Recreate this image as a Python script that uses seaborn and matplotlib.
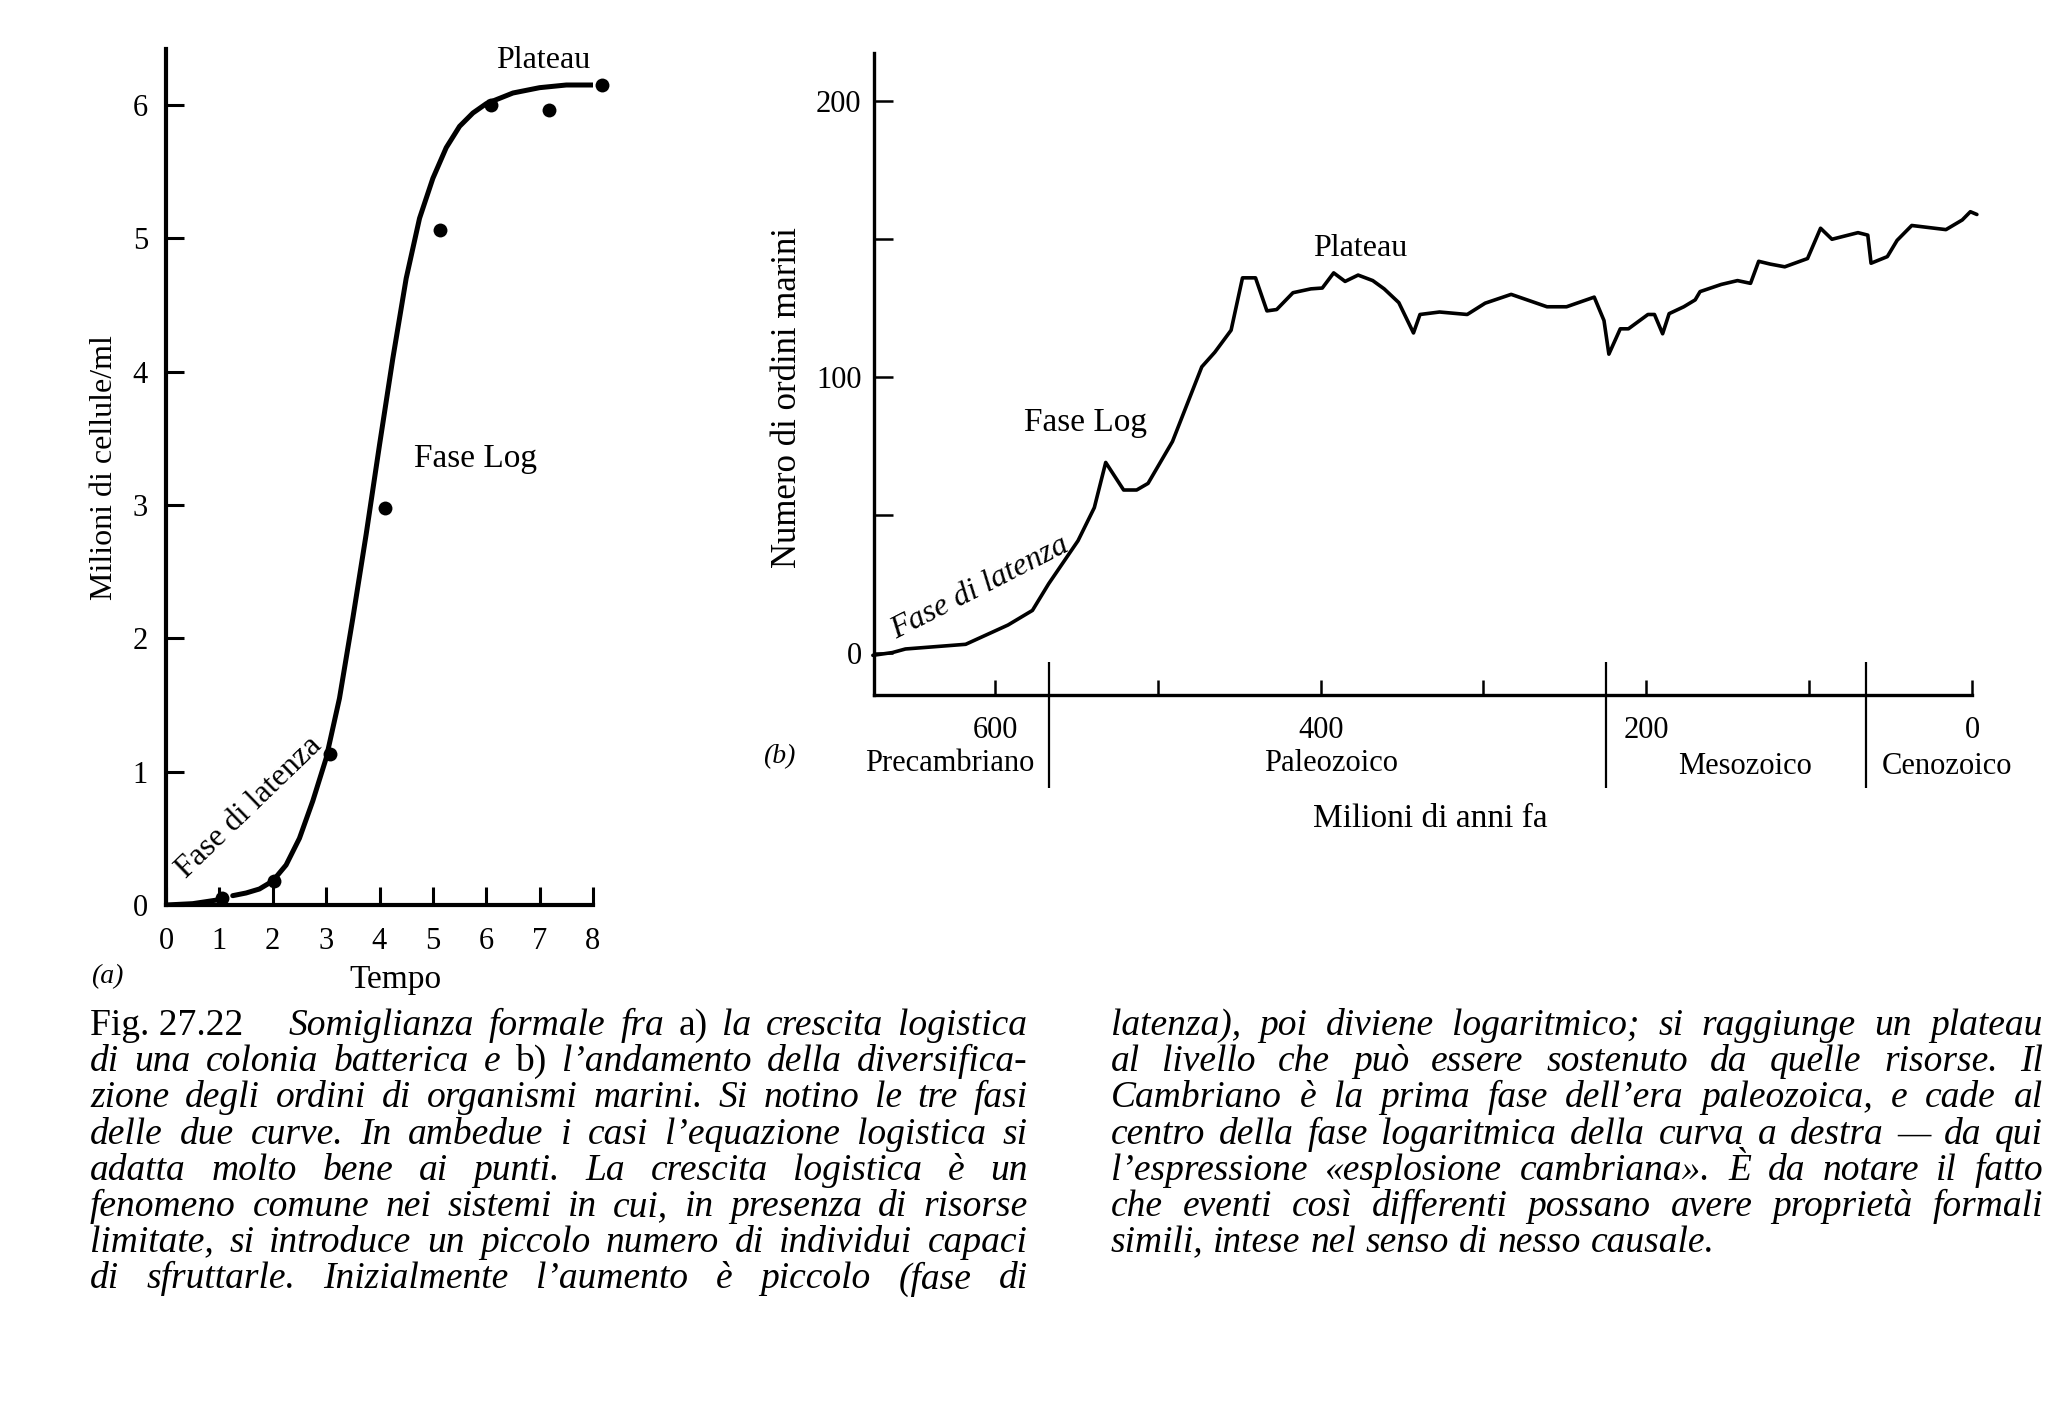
import numpy as np
import pandas as pd
import matplotlib
matplotlib.use("Agg")
import matplotlib.pyplot as plt
import seaborn as sns

# ---------------- (a) bacterial colony ----------------
time_obs = [1.05, 2.02, 3.08, 4.10, 5.13, 6.08, 7.17, 8.16]
cells_obs = [0.05, 0.18, 1.13, 2.98, 5.06, 6.00, 5.96, 6.15]
time_curve = [0.0, 0.5, 1.0, 1.25, 1.5, 1.75, 2.0, 2.25, 2.5, 2.75, 3.0, 3.25, 3.5,
              3.75, 4.0, 4.25, 4.5, 4.75, 5.0, 5.25, 5.5, 5.75, 6.0, 6.5, 7.0, 7.5, 8.0]
cells_curve = [0.0, 0.01, 0.04, 0.07, 0.09, 0.12, 0.18, 0.30, 0.50, 0.78, 1.10, 1.55, 2.15,
               2.78, 3.45, 4.10, 4.70, 5.15, 5.45, 5.68, 5.84, 5.94, 6.01, 6.09, 6.13, 6.15, 6.15]
time_ticks = [0, 1, 2, 3, 4, 5, 6, 7, 8]
cells_ticks = [0, 1, 2, 3, 4, 5, 6]

# ---------------- (b) marine orders ----------------
age_mya = [675, 663, 655, 618, 592, 577, 567, 549, 539, 532, 521, 513, 506, 491, 473,
           465, 455, 448, 440, 433, 427, 417, 406, 399, 392, 385, 377, 368, 361, 352,
           343, 339, 327, 310, 299, 283, 261, 249, 232, 226, 223, 216, 211, 199, 195,
           190, 186, 177, 170, 167, 154, 144, 136, 131, 124, 115, 101, 93, 86, 70,
           64, 62, 52, 46, 37, 16, 6, 1, -3]
n_orders = [-1, 0, 1.3, 3, 10, 15.3, 25, 40.6, 52.6, 69, 59, 59, 61.4, 76.6, 103.7,
            109, 117, 136, 136, 124, 124.5, 130.6, 132, 132.3, 137.8, 134.7, 137, 135, 132, 127,
            116, 122.7, 123.6, 122.7, 126.8, 130, 125.5, 125.5, 129, 120.5, 108.3, 117.5, 117.5, 122.7, 122.7,
            115.7, 123, 125.5, 128, 131, 133.6, 135, 134, 142, 141, 140, 143, 154, 150, 152.4,
            151.5, 141.3, 143.7, 149.6, 155, 153.5, 157, 160, 159]
age_ticks = [600, 500, 400, 300, 200, 100, 0]
age_ticklabels = ["600", "", "400", "", "200", "", "0"]
order_ticks = [0, 50, 100, 150, 200]
order_ticklabels = ["0", "", "100", "", "200"]
era_boundaries = [567, 225, 65]
era_names = ["Precambriano", "Paleozoico", "Mesozoico", "Cenozoico"]

caption_left = [
    "^Fig.\u00a027.22 | Somiglianza formale fra ^a) la crescita logistica",
    "di una colonia batterica e ^b) l\u2019andamento della diversifica-",
    "zione degli ordini di organismi marini. Si notino le tre fasi",
    "delle due curve. In ambedue i casi l\u2019equazione logistica si",
    "adatta molto bene ai punti. La crescita logistica \u00e8 un",
    "fenomeno comune nei sistemi in cui, in presenza di risorse",
    "limitate, si introduce un piccolo numero di individui capaci",
    "di sfruttarle. Inizialmente l\u2019aumento \u00e8 piccolo (fase di",
]
caption_right = [
    "latenza), poi diviene logaritmico; si raggiunge un plateau",
    "al livello che pu\u00f2 essere sostenuto da quelle risorse. Il",
    "Cambriano \u00e8 la prima fase dell\u2019era paleozoica, e cade al",
    "centro della fase logaritmica della curva a destra \u2014 da qui",
    "l\u2019espressione \u00abesplosione cambriana\u00bb. \u00c8 da notare il fatto",
    "che eventi cos\u00ec differenti possano avere propriet\u00e0 formali",
    "simili, intese nel senso di nesso causale.",
]

# ---------------- style ----------------
sns.set_style("ticks")
SERIF = ["Liberation Serif", "DejaVu Serif"]
plt.rcParams["font.family"] = SERIF
plt.rcParams["text.color"] = "black"
plt.rcParams["axes.labelcolor"] = "black"

W, H = 2067, 1401
fig = plt.figure(figsize=(W / 100, H / 100), dpi=100, facecolor="white")


def fx(p):
    return p / W


def fy(p):
    return 1 - p / H


# ================= panel (a) =================
ax1 = fig.add_axes([fx(166), fy(905), (593 - 166) / W, (905 - 49) / H])
curve_df = pd.DataFrame({"t": time_curve, "c": cells_curve})
curve_df["seg"] = (curve_df["t"] > 1.1).astype(int)
sns.lineplot(data=curve_df, x="t", y="c", units="seg", estimator=None, sort=False,
             color="black", linewidth=3.6, ax=ax1, legend=False)
sns.scatterplot(x=time_obs, y=cells_obs, color="black", s=100, linewidth=0, ax=ax1,
                clip_on=False, zorder=5)
ax1.set_xlim(0, 8)
ax1.set_ylim(0, 6.42)
ax1.set_xticks(time_ticks)
ax1.set_yticks(cells_ticks)
sns.despine(ax=ax1)
for s in ["left", "bottom"]:
    ax1.spines[s].set_linewidth(3.0)
    ax1.spines[s].set_color("black")
ax1.tick_params(axis="both", direction="in", length=13, width=2.2, labelsize=22,
                colors="black")
ax1.tick_params(axis="x", pad=16)
ax1.tick_params(axis="y", pad=13)
ax1.set_xlabel("Tempo", fontsize=24, va="baseline", ha="center")
ax1.xaxis.set_label_coords((395 - 166) / 427, (905 - 988) / 856)
ax1.set_ylabel("Milioni di cellule/ml", fontsize=23, va="center", ha="center")
ax1.yaxis.set_label_coords((105 - 166) / 427, (905 - 468) / 856)

fig.text(fx(543), fy(60), "Plateau", fontsize=23, ha="center", va="center")
fig.text(fx(476), fy(459), "Fase Log", fontsize=24, ha="center", va="center")
fig.text(fx(249), fy(808), "Fase di latenza", fontsize=23, ha="center", va="center",
         rotation=44, rotation_mode="anchor")
fig.text(fx(107), fy(977), "(a)", fontsize=20, style="italic", ha="center", va="center")

# ================= panel (b) =================
ax2 = fig.add_axes([fx(874), fy(695), (1972 - 874) / W, (695 - 53) / H])
sns.lineplot(x=age_mya, y=n_orders, sort=False, estimator=None, color="black",
             linewidth=2.6, ax=ax2, clip_on=False)
ax2.set_xlim(674.3, 0)
ax2.set_ylim(-15.4, 217.6)
ax2.set_xticks(age_ticks)
ax2.set_xticklabels(age_ticklabels)
ax2.set_yticks(order_ticks)
ax2.set_yticklabels(order_ticklabels)
sns.despine(ax=ax2)
for s in ["left", "bottom"]:
    ax2.spines[s].set_linewidth(2.4)
    ax2.spines[s].set_color("black")
ax2.tick_params(axis="both", direction="in", width=1.8, labelsize=22, colors="black")
ax2.tick_params(axis="x", length=11, pad=15)
ax2.tick_params(axis="y", length=14, pad=9)
ax2.set_xlabel("Milioni di anni fa", fontsize=24, va="center", ha="center")
ax2.xaxis.set_label_coords((1430 - 874) / 1098, (695 - 819) / 642)
ax2.set_ylabel("Numero di ordini marini", fontsize=25, va="center", ha="center")
ax2.yaxis.set_label_coords((787 - 874) / 1098, (695 - 398) / 642)
ax2.vlines(era_boundaries, -0.145, 0.051, transform=ax2.get_xaxis_transform(),
           colors="black", linewidth=1.6, clip_on=False)

era_pos = [(950, 763), (1331, 763), (1745, 767), (1947, 767)]
for name, (px, py) in zip(era_names, era_pos):
    fig.text(fx(px), fy(py), name, fontsize=22, ha="center", va="center")
fig.text(fx(779), fy(757), "(b)", fontsize=20, style="italic", ha="center", va="center")
fig.text(fx(1360), fy(249), "Plateau", fontsize=23, ha="center", va="center")
fig.text(fx(1086), fy(423), "Fase Log", fontsize=24, ha="center", va="center")
fig.text(fx(980), fy(588), "Fase di latenza", fontsize=23, style="italic",
         ha="center", va="center", rotation=27, rotation_mode="anchor")

# ================= caption (justified) =================
cap_fs0 = 24.0
px_per_pt = 100 / 72
items = []
for lines, x0, x1, just_last in [(caption_left, 90, 1028, True),
                                 (caption_right, 1111, 2043, False)]:
    for i, line in enumerate(lines):
        toks = []
        extra = 0
        for raw in line.split(" "):
            if raw == "|":
                extra += 1
                continue
            roman = raw.startswith("^")
            txt = raw[1:] if roman else raw
            t = fig.text(0, 0, txt.replace("\u00a0", " "), fontsize=cap_fs0,
                         style="normal" if roman else "italic", ha="left",
                         va="baseline", family=SERIF)
            toks.append([t, extra])
            extra = 0
        justify = (i < len(lines) - 1) or just_last
        items.append(dict(toks=toks, x0=x0, x1=x1, y=1035 + 36.2 * i, justify=justify))

fig.canvas.draw()
renderer = fig.canvas.get_renderer()
em0 = cap_fs0 * px_per_pt
scales = []
for it in items:
    ws = [t.get_window_extent(renderer).width for t, _ in it["toks"]]
    it["w"] = ws
    if it["justify"]:
        need = sum(ws) + sum(e for _, e in it["toks"]) * 0.8 * em0 + (len(ws) - 1) * 0.17 * em0
        scales.append((it["x1"] - it["x0"]) / need)
sc = min(min(scales), 27.0 / cap_fs0)
fs = cap_fs0 * sc
em = fs * px_per_pt
for it in items:
    ws = [w * sc for w in it["w"]]
    extras = [e * 0.8 * em for _, e in it["toks"]]
    n = len(ws)
    if it["justify"] and n > 1:
        gap = (it["x1"] - it["x0"] - sum(ws) - sum(extras)) / (n - 1)
    else:
        gap = 0.25 * em
    x = it["x0"]
    for (t, e), w, ex in zip(it["toks"], ws, extras):
        x += ex
        t.set_fontsize(fs)
        t.set_position((fx(x), fy(it["y"])))
        x += w + gap

fig.savefig("out.png", dpi=100, facecolor="white")
